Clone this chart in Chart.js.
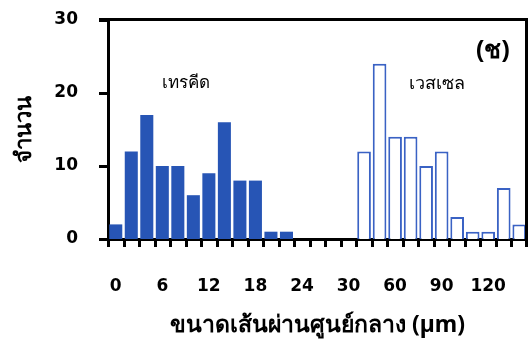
<!DOCTYPE html>
<html>
<head>
<meta charset="utf-8">
<script src="https://cdn.jsdelivr.net/npm/chart.js@4"></script>
<style>
  html, body { margin: 0; padding: 0; background: #fff; }
  #wrap { width: 532px; height: 340px; }
</style>
</head>
<body>
<div id="wrap"><canvas id="c" width="532" height="340"></canvas></div>
<script>
// Diameter classes (µm): 2-µm steps up to 30, then 10-µm steps
const categories = ['0','2','4','6','8','10','12','14','16','18','20','22','24','26','28',
                    '30','40','50','60','70','80','90','100','110','120','130','140'];
// Counts per class
const tracheidCounts = [2,12,17,10,10,6,9,16,8,8,1,1,
                        null,null,null,null,null,null,null,null,null,null,null,null,null,null,null];
const vesselCounts = [null,null,null,null,null,null,null,null,null,null,null,null,null,null,null,null,
                      12,24,14,14,10,12,3,1,1,7,2];
const yTicks = [0,10,20,30];

const NUM_FONT = "'DejaVu Sans', sans-serif";
const THAI = "'Noto Sans', 'Liberation Sans', sans-serif";

// Frame (top/right), tick marks and in-plot labels
const framePlugin = {
  id: 'frame',
  afterDraw(chart) {
    const { ctx, chartArea: a } = chart;
    const xs = chart.scales.x, ys = chart.scales.y;
    const top = Math.round(a.top), bot = Math.round(a.bottom);
    const left = Math.round(a.left), right = Math.round(a.right);
    ctx.save();
    ctx.fillStyle = '#000';

    // top and right border of the plot box
    ctx.fillRect(left - 9, top - 2, right - left + 10, 3);
    ctx.fillRect(right - 2, top - 2, 3, bot - top + 10);

    // y tick marks
    yTicks.forEach(v => {
      const py = Math.round(ys.getPixelForValue(v));
      ctx.fillRect(left - 9, py - 1, 9, 3);
    });
    // x tick marks at class boundaries
    for (let i = 0; i < categories.length; i++) {
      const px = Math.round(xs.getPixelForValue(i - 0.5));
      ctx.fillRect(px - 1, bot, 3, 8);
    }

    ctx.textAlign = 'center';
    ctx.textBaseline = 'middle';
    ctx.font = "17px " + THAI;
    ctx.fillText('เทรคีด', xs.getPixelForValue(4.5), ys.getPixelForValue(21.4));
    ctx.font = "18px " + THAI;
    ctx.fillText('เวสเซล', xs.getPixelForValue(20.7), ys.getPixelForValue(21.3));
    ctx.font = "bold 25px " + THAI;
    ctx.fillText('(ช)', xs.getPixelForValue(24.3), ys.getPixelForValue(25.8));
    ctx.restore();
  }
};

new Chart(document.getElementById('c'), {
  type: 'bar',
  data: {
    labels: categories,
    datasets: [
      {
        label: 'เทรคีด',
        data: tracheidCounts,
        backgroundColor: '#2755b5',
        borderWidth: 0,
        grouped: false,
        categoryPercentage: 1,
        barPercentage: 0.84
      },
      {
        label: 'เวสเซล',
        data: vesselCounts,
        backgroundColor: '#ffffff',
        borderColor: '#3a62c4',
        borderWidth: 2,
        borderSkipped: 'bottom',
        grouped: false,
        categoryPercentage: 1,
        barPercentage: 0.88
      }
    ]
  },
  plugins: [framePlugin],
  options: {
    responsive: false,
    animation: false,
    devicePixelRatio: 1,
    layout: { autoPadding: false, padding: { top: 20, right: 5, bottom: 0, left: 0 } },
    plugins: { legend: { display: false }, tooltip: { enabled: false } },
    scales: {
      x: {
        offset: true,
        grid: { offset: true, display: false, drawTicks: true, tickLength: 7 },
        border: { display: true, color: '#000', width: 3 },
        ticks: {
          autoSkip: false,
          maxRotation: 0,
          color: '#000',
          padding: 30,
          font: { family: NUM_FONT, size: 17, weight: 'bold' },
          callback: function (v, i) { return i % 3 === 0 ? categories[i] : ''; }
        },
        title: {
          display: true,
          text: 'ขนาดเส้นผ่านศูนย์กลาง (µm)',
          color: '#000',
          font: { family: THAI, size: 23, weight: 'bold' },
          padding: { top: 0, bottom: 1 }
        },
        afterFit(scale) {
          scale.height = 101;
          scale.paddingLeft = 0;
          scale.paddingRight = 0;
        }
      },
      y: {
        min: 0,
        max: 30,
        afterBuildTicks(scale) { scale.ticks = yTicks.map(v => ({ value: v })); },
        grid: { display: false, drawTicks: true, tickLength: 8 },
        border: { display: true, color: '#000', width: 3 },
        ticks: {
          color: '#000',
          padding: 22,
          font: { family: NUM_FONT, size: 17, weight: 'bold' }
        },
        title: {
          display: true,
          text: 'จำนวน',
          color: '#000',
          font: { family: THAI, size: 22, weight: 'bold' },
          padding: { top: 12, bottom: 0 }
        },
        afterFit(scale) {
          scale.width = 108;
          scale.paddingTop = 0;
          scale.paddingBottom = 0;
        }
      }
    }
  }
});
</script>
</body>
</html>
